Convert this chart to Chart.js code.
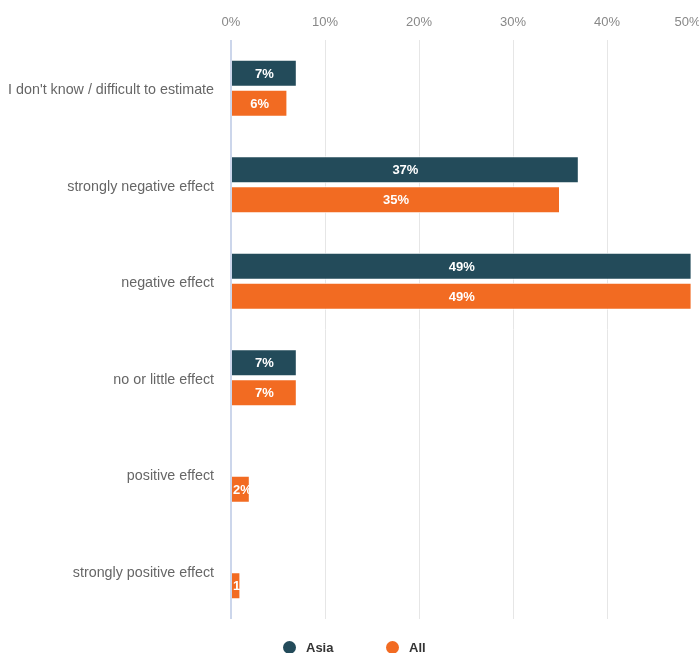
<!DOCTYPE html>
<html>
<head>
<meta charset="utf-8">
<script src="https://cdn.jsdelivr.net/npm/chart.js@4/dist/chart.umd.min.js"></script>
<style>
  html, body { margin: 0; padding: 0; background: #fff; overflow: hidden; }
  #wrap { position: relative; width: 699px; height: 653px; overflow: hidden; }
  #box { position: absolute; left: 0; top: 0; width: 726px; height: 653px; }
  .leg { position: absolute; top: 640px; font: bold 13px "Liberation Sans", Arial, sans-serif; color: #333; }
  .leg i { display: inline-block; width: 13px; height: 13px; border-radius: 50%; vertical-align: -2px; margin-right: 10px; }
</style>
</head>
<body>
<div id="wrap">
  <div id="box"><canvas id="chart"></canvas></div>
  <div class="leg" style="left:283px"><i style="background:#234b5a"></i>Asia</div>
  <div class="leg" style="left:386px"><i style="background:#f26b22"></i>All</div>
</div>
<script>
// Données
const categories = [
  "I don't know / difficult to estimate",
  "strongly negative effect",
  "negative effect",
  "no or little effect",
  "positive effect",
  "strongly positive effect"
];
const asiaValues = [7, 37, 49, 7, 0, 0];
const allValues = [6, 35, 49, 7, 2, 1];
const xTicks = [0, 10, 20, 30, 40, 50];

const font = "'Liberation Sans', Arial, sans-serif";

// Étiquettes de valeur dans les barres
const barLabels = {
  id: "barLabels",
  afterDatasetsDraw(chart) {
    const ctx = chart.ctx;
    ctx.save();
    ctx.font = "bold 13px " + font;
    ctx.fillStyle = "#fff";
    ctx.textAlign = "center";
    ctx.textBaseline = "middle";
    chart.data.datasets.forEach((ds, i) => {
      chart.getDatasetMeta(i).data.forEach((bar, j) => {
        const v = ds.data[j];
        if (!v) return;
        const txt = v + "%";
        const w = ctx.measureText(txt).width;
        let x = (bar.x + bar.base) / 2;
        x = Math.max(x, bar.base + w / 2 + 1);
        ctx.fillText(txt, x, bar.y + 1);
      });
    });
    ctx.restore();
  }
};

// Graduations de l'axe du haut (la dernière est rentrée dans la zone visible)
const topTicks = {
  id: "topTicks",
  afterDraw(chart) {
    const ctx = chart.ctx;
    const sx = chart.scales.x;
    ctx.save();
    ctx.font = "13px " + font;
    ctx.fillStyle = "#888";
    ctx.textAlign = "center";
    ctx.textBaseline = "middle";
    xTicks.forEach(v => {
      const txt = v + "%";
      const w = ctx.measureText(txt).width;
      const x = Math.min(sx.getPixelForValue(v), 700.5 - w / 2);
      ctx.fillText(txt, x, 22);
    });
    ctx.restore();
  }
};

new Chart(document.getElementById("chart"), {
  type: "bar",
  data: {
    labels: categories,
    datasets: [
      {
        label: "Asia",
        data: asiaValues,
        backgroundColor: "#234b5a",
        borderColor: "#fff",
        borderWidth: 1,
        barPercentage: 0.9,
        categoryPercentage: 0.622
      },
      {
        label: "All",
        data: allValues,
        backgroundColor: "#f26b22",
        borderColor: "#fff",
        borderWidth: 1,
        barPercentage: 0.9,
        categoryPercentage: 0.622
      }
    ]
  },
  options: {
    indexAxis: "y",
    responsive: true,
    maintainAspectRatio: false,
    animation: false,
    layout: { padding: { top: 0, bottom: 34, left: 0, right: 25 } },
    plugins: {
      legend: { display: false },
      tooltip: { enabled: false }
    },
    scales: {
      x: {
        position: "top",
        min: 0,
        max: 50,
        afterBuildTicks: s => { s.ticks = xTicks.map(v => ({ value: v })); },
        afterFit: s => { s.height = 40; },
        border: { display: false },
        grid: {
          drawTicks: false,
          color: c => c.tick && c.tick.value === 0 ? "#ccd6eb" : "#e6e6e6",
          lineWidth: c => c.tick && c.tick.value === 0 ? 2 : 1
        },
        ticks: { display: false }
      },
      y: {
        afterFit: s => { s.width = 231; },
        border: { display: false },
        grid: { display: false, drawTicks: false },
        ticks: {
          padding: 17,
          labelOffset: 2,
          color: "#666",
          font: { family: font, size: 14.3 }
        }
      }
    }
  },
  plugins: [barLabels, topTicks]
});
</script>
</body>
</html>
